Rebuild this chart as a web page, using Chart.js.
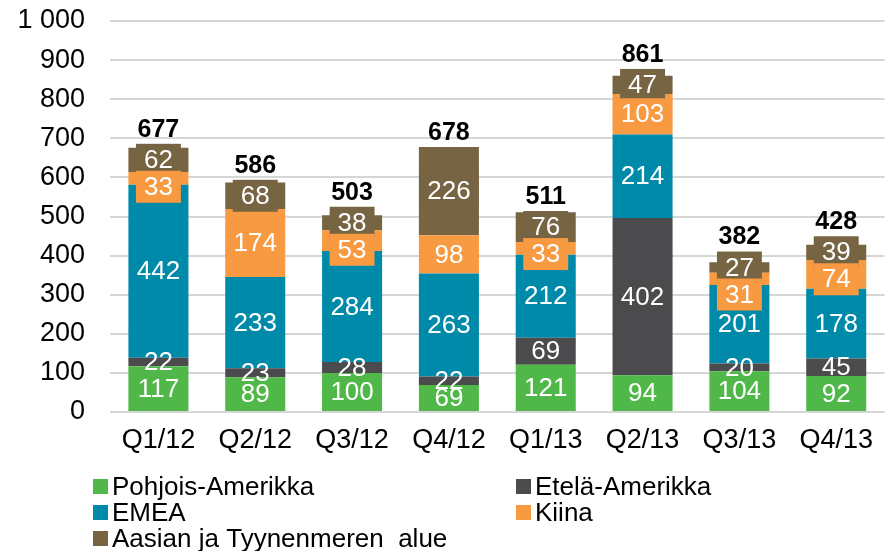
<!DOCTYPE html>
<html>
<head>
<meta charset="utf-8">
<script src="https://cdn.jsdelivr.net/npm/chart.js@4"></script>
<style>
  html, body { margin: 0; padding: 0; background: #fff; }
  #wrap { width: 885px; height: 551px; }
</style>
</head>
<body>
<div id="wrap"><canvas id="chart" width="885" height="551"></canvas></div>
<script>
const quarters = ['Q1/12', 'Q2/12', 'Q3/12', 'Q4/12', 'Q1/13', 'Q2/13', 'Q3/13', 'Q4/13'];
const pohjoisAmerikka = [117, 89, 100, 69, 121, 94, 104, 92];
const etelaAmerikka = [22, 23, 28, 22, 69, 402, 20, 45];
const emea = [442, 233, 284, 263, 212, 214, 201, 178];
const kiina = [33, 174, 53, 98, 33, 103, 31, 74];
const aasia = [62, 68, 38, 226, 76, 47, 27, 39];
const totals = [677, 586, 503, 678, 511, 861, 382, 428];
const yTicks = [0, 100, 200, 300, 400, 500, 600, 700, 800, 900, 1000];

const FONT = '"Liberation Sans", Arial, sans-serif';

// box: whether the value label gets a filled box in the series colour
const series = [
    { label: 'Pohjois-Amerikka', data: pohjoisAmerikka, color: '#50b848', box: false },
    { label: 'Etelä-Amerikka', data: etelaAmerikka, color: '#4b4b4d', box: false },
    { label: 'EMEA', data: emea, color: '#008aaa', box: false },
    { label: 'Kiina', data: kiina, color: '#f79a42', box: true },
    { label: 'Aasian ja Tyynenmeren  alue', data: aasia, color: '#776443', box: true }
];

const BOX_H = 32;
const MIN_GAP = 27;

const segmentLabels = {
    id: 'segmentLabels',
    afterDatasetsDraw(chart) {
        const ctx = chart.ctx;
        const n = series.length;
        ctx.save();
        ctx.font = '26px ' + FONT;
        ctx.textAlign = 'center';
        ctx.textBaseline = 'middle';

        // label centres per bar; boxed labels get pushed down if they collide
        const pos = series.map(() => []);
        quarters.forEach((q, i) => {
            let prev = null;
            for (let d = n - 1; d >= 0; d--) {
                const bar = chart.getDatasetMeta(d).data[i];
                let cy = (bar.y + bar.base) / 2;
                if (series[d].box && prev !== null && cy - prev < MIN_GAP) cy = prev + MIN_GAP;
                pos[d][i] = cy;
                prev = cy;
            }
        });

        // boxes first, top series first so lower boxes sit above
        for (let d = n - 1; d >= 0; d--) {
            if (!series[d].box) continue;
            chart.getDatasetMeta(d).data.forEach((bar, i) => {
                const w = ctx.measureText(String(series[d].data[i])).width + 16;
                ctx.fillStyle = series[d].color;
                ctx.fillRect(bar.x - w / 2, pos[d][i] - BOX_H / 2, w, BOX_H);
            });
        }
        ctx.fillStyle = '#ffffff';
        series.forEach((s, d) => {
            chart.getDatasetMeta(d).data.forEach((bar, i) => {
                ctx.fillText(String(s.data[i]), bar.x, pos[d][i] + 1);
            });
        });

        // totals on top
        ctx.font = 'bold 25px ' + FONT;
        ctx.fillStyle = '#000000';
        chart.getDatasetMeta(n - 1).data.forEach((bar, i) => {
            const boxTop = pos[n - 1][i] - BOX_H / 2;
            const y = Math.min(bar.y, boxTop) - 14;
            ctx.fillText(String(totals[i]), bar.x, y);
        });
        ctx.restore();
    }
};

const legendBlock = {
    id: 'legendBlock',
    afterDraw(chart) {
        const ctx = chart.ctx;
        const cols = [93, 516];
        const rows = [487, 513, 539];
        ctx.save();
        ctx.font = '26px ' + FONT;
        ctx.textBaseline = 'middle';
        ctx.textAlign = 'left';
        series.forEach((s, k) => {
            const x = cols[k % 2];
            const y = rows[Math.floor(k / 2)];
            ctx.fillStyle = s.color;
            ctx.fillRect(x, y - 8, 15, 15);
            ctx.fillStyle = '#000000';
            ctx.fillText(s.label, x + 19, y + 1);
        });
        ctx.restore();
    }
};

new Chart(document.getElementById('chart').getContext('2d'), {
    type: 'bar',
    data: {
        labels: quarters,
        datasets: series.map(s => ({
            label: s.label,
            data: s.data,
            backgroundColor: s.color,
            borderWidth: 0,
            barPercentage: 0.62,
            categoryPercentage: 1.0
        }))
    },
    options: {
        responsive: false,
        animation: false,
        layout: { padding: { top: 21, right: 0, bottom: 91, left: 0 } },
        plugins: {
            legend: { display: false },
            tooltip: { enabled: false }
        },
        scales: {
            x: {
                stacked: true,
                grid: { display: false, drawTicks: false },
                border: { display: false },
                ticks: { color: '#000', font: { family: FONT, size: 27 }, padding: 12 },
                afterFit(scale) { scale.height = 48; }
            },
            y: {
                stacked: true,
                min: 0,
                max: 1000,
                afterBuildTicks(scale) { scale.ticks = yTicks.map(v => ({ value: v })); },
                grid: { color: '#d6d6d6', lineWidth: 2, drawTicks: false },
                border: { display: false },
                ticks: {
                    color: '#000',
                    font: { family: FONT, size: 27 },
                    padding: 25,
                    callback: v => v >= 1000 ? '1 000' : String(v)
                },
                afterFit(scale) {
                    scale.width = 110;
                    scale.paddingTop = 0;
                    scale.paddingBottom = 0;
                }
            }
        }
    },
    plugins: [segmentLabels, legendBlock]
});
</script>
</body>
</html>
